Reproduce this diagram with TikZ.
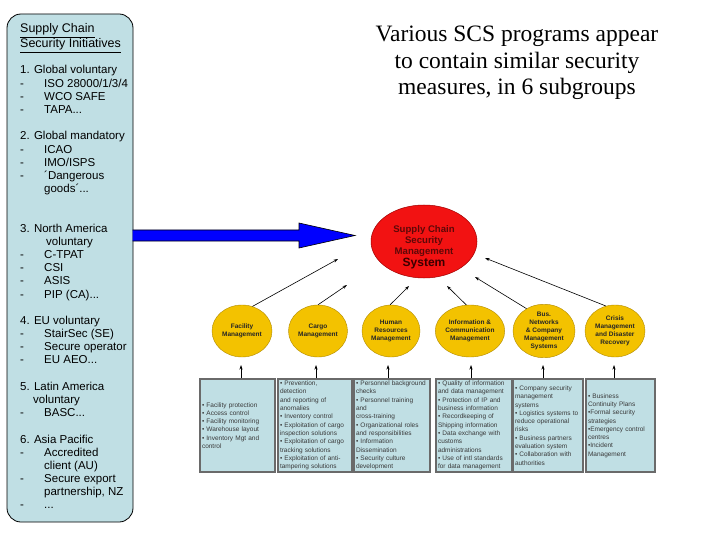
\documentclass[tikz,border=0pt]{standalone}
\usepackage{fontspec}
\setmainfont{Liberation Sans}
\newfontfamily\titlefont{Liberation Serif}
\usetikzlibrary{shapes.geometric,arrows.meta}
\definecolor{panelblue}{HTML}{C0DFE4}
\definecolor{goldy}{HTML}{F3C200}
\definecolor{goldline}{HTML}{B08A00}
\definecolor{redfill}{HTML}{F21212}
\definecolor{redline}{HTML}{A00000}
\definecolor{maroontxt}{HTML}{5E0808}
\definecolor{systxt}{HTML}{3A0000}
\definecolor{boxtext}{HTML}{3A3A3A}
\definecolor{boxline}{HTML}{6A6A6A}
\newcommand\pline[4]{\node[lt] (#1) at (#2,{74+13.18*(#3)}) {#4};}
\newcommand\myboxfont{\fontsize{6.5}{8.3}\selectfont\hyphenpenalty=10000\relax\exhyphenpenalty=10000\relax}
\begin{document}
\begin{tikzpicture}[x=1pt,y=-1pt,
  lt/.style={font=\fontsize{11.5}{13}\selectfont,anchor=base west,inner sep=0pt},
  panel/.style={draw=black,line width=0.8pt,fill=panelblue,rounded corners=14pt,minimum width=126pt,minimum height=508pt},
  circ/.style={ellipse,draw=goldline,line width=0.4pt,fill=goldy,minimum height=52pt,inner sep=0pt,align=center,font=\bfseries\fontsize{6.5}{8}\selectfont,text=black!85},
  infobox/.style={rectangle,draw=boxline,line width=1.2pt,fill=panelblue,minimum height=93pt,inner xsep=1.8pt,inner ysep=1pt,align=left,font=\myboxfont,text=boxtext},
  sarrow/.style={-{Stealth[length=4.5pt,width=3pt]},line width=0.6pt,draw=black}]
\useasboundingbox (0,0) rectangle (720,540);
\fill[white] (0,0) rectangle (720,540);

% left panel
\node[panel] (panel) at (70,268) {};
\node[lt,font=\fontsize{12.5}{13}\selectfont] (h1) at (20,33) {\underline{Supply Chain}};
\node[lt,font=\fontsize{12.5}{13}\selectfont] (h2) at (20,48) {\underline{Security Initiatives}};
\pline{g1}{20}{0}{1. Global voluntary}
\pline{d1}{20}{1}{-}\pline{i1}{44}{1}{ISO 28000/1/3/4}
\pline{d2}{20}{2}{-}\pline{i2}{44}{2}{WCO SAFE}
\pline{d3}{20}{3}{-}\pline{i3}{44}{3}{TAPA...}
\pline{g2}{20}{5}{2. Global mandatory}
\pline{d4}{20}{6}{-}\pline{i4}{44}{6}{ICAO}
\pline{d5}{20}{7}{-}\pline{i5}{44}{7}{IMO/ISPS}
\pline{d6}{20}{8}{-}\pline{i6}{44}{8}{´Dangerous}
\pline{i7}{44}{9}{goods´...}
\pline{g3}{20}{12}{3. North America}
\pline{g3b}{46}{13}{voluntary}
\pline{d8}{20}{14}{-}\pline{i8}{44}{14}{C-TPAT}
\pline{d9}{20}{15}{-}\pline{i9}{44}{15}{CSI}
\pline{d10}{20}{16}{-}\pline{i10}{44}{16}{ASIS}
\pline{d11}{20}{17}{-}\pline{i11}{44}{17}{PIP (CA)...}
\pline{g4}{20}{19}{4. EU voluntary}
\pline{d12}{20}{20}{-}\pline{i12}{44}{20}{StairSec (SE)}
\pline{d13}{20}{21}{-}\pline{i13}{44}{21}{Secure operator}
\pline{d14}{20}{22}{-}\pline{i14}{44}{22}{EU AEO...}
\pline{g5}{20}{24}{5. Latin America}
\pline{g5b}{33}{25}{voluntary}
\pline{d15}{20}{26}{-}\pline{i15}{44}{26}{BASC...}
\pline{g6}{20}{28}{6. Asia Pacific}
\pline{d16}{20}{29}{-}\pline{i16}{44}{29}{Accredited}
\pline{i17}{44}{30}{client (AU)}
\pline{d18}{20}{31}{-}\pline{i18}{44}{31}{Secure export}
\pline{i19}{44}{32}{partnership, NZ}
\pline{d20}{20}{33}{-}\pline{i20}{44}{33}{...}

% big blue arrow
\fill[blue] (132.6,230) -- (299,230) -- (299,223) -- (355,235.5) -- (299,248) -- (299,241) -- (132.6,241) -- cycle;
\draw[black,line width=0.6pt,line join=miter] (132.6,230) -- (299,230) -- (299,223) -- (355,235.5) -- (299,248) -- (299,241) -- (132.6,241);

% title
\node[align=center,inner sep=0pt,font=\titlefont\fontsize{23.5}{26.5}\selectfont] (title) at (517,63) {Various SCS programs appear\\to contain similar security\\measures, in 6 subgroups};

% central ellipse
\node[ellipse,draw=redline,line width=0.5pt,fill=redfill,minimum width=106pt,minimum height=73pt,inner sep=0pt] (scs) at (424,241.5) {};
\node[align=center,inner sep=0pt,font=\bfseries\fontsize{9.6}{10.6}\selectfont,text=maroontxt] (scstext) at (424,241) {Supply Chain\\Security\\Management};
\node[inner sep=0pt,font=\bfseries\fontsize{12}{12}\selectfont,text=systxt] (systext) at (424,263.5) {System};

% yellow circles
\node[circ,minimum width=60pt] (c1) at (242,331) {Facility\\Management};
\node[circ,minimum width=59pt] (c2) at (318,331) {Cargo\\Management};
\node[circ,minimum width=58pt] (c3) at (391,331) {Human\\Resources\\Management};
\node[circ,minimum width=67pt] (c4) at (470,331) {Information \&\\Communication\\Management};
\node[circ,minimum width=62pt] (c5) at (544,331) {Bus.\\Networks\\\& Company\\Management\\Systems};
\node[circ,minimum width=60pt] (c6) at (615,331) {Crisis\\Management\\and Disaster\\Recovery};

% arrows to central ellipse
\coordinate (e1) at (338,259);
\coordinate (e2) at (347,285);
\coordinate (e3) at (409,286);
\coordinate (e4) at (447,286);
\coordinate (e5) at (475,277);
\coordinate (e6) at (485,258);
\draw[sarrow] (c1.67) -- (e1);
\draw[sarrow] (c2.90) -- (e2);
\draw[sarrow] (c3.92) -- (e3);
\draw[sarrow] (c4.98) -- (e4);
\draw[sarrow] (c5.128) -- (e5);
\draw[sarrow] (c6.110) -- (e6);

% bottom boxes
\node[infobox,minimum width=75pt,text width=71pt] (b1) at (237.5,425.5) {• Facility protection\\• Access control\\• Facility monitoring\\• Warehouse layout\\• Inventory Mgt and\\control};
\node[infobox,minimum width=74pt,text width=70pt] (b2) at (315,425.5) {• Prevention,\\detection\\and reporting of\\anomalies\\• Inventory control\\• Exploitation of cargo\\inspection solutions\\• Exploitation of cargo\\tracking solutions\\• Exploitation of anti-\\tampering solutions};
\node[infobox,minimum width=76pt,text width=72pt] (b3) at (392,425.5) {• Personnel background\\checks\\• Personnel training\\and\\cross-training\\• Organizational roles\\and responsibilities\\• Information\\Dissemination\\• Security culture\\development};
\node[infobox,minimum width=76pt,text width=72pt] (b4) at (474,425.5) {• Quality of information\\and data management\\• Protection of IP and\\business information\\• Recordkeeping of\\Shipping information\\• Data exchange with\\customs\\administrations\\• Use of intl standards\\for data management};
\node[infobox,minimum width=70pt,text width=66pt] (b5) at (548,425.5) {• Company security\\management\\systems\\• Logistics systems to\\reduce operational\\risks\\• Business partners\\evaluation system\\• Collaboration with\\authorities};
\node[infobox,minimum width=69pt,text width=65pt] (b6) at (620.5,425.5) {• Business\\Continuity Plans\\•Formal security\\strategies\\•Emergency control\\centres\\•Incident\\Management};

% arrows from boxes to circles
\coordinate (t1) at (241,365);
\coordinate (t2) at (316,365);
\coordinate (t3) at (388,365);
\coordinate (t4) at (471,365);
\coordinate (t5) at (543,365);
\coordinate (t6) at (614,365);
\draw[sarrow] (b1.north -| t1) -- (t1);
\draw[sarrow] (b2.north -| t2) -- (t2);
\draw[sarrow] (b3.north -| t3) -- (t3);
\draw[sarrow] (b4.north -| t4) -- (t4);
\draw[sarrow] (b5.north -| t5) -- (t5);
\draw[sarrow] (b6.north -| t6) -- (t6);
\end{tikzpicture}
\end{document}
